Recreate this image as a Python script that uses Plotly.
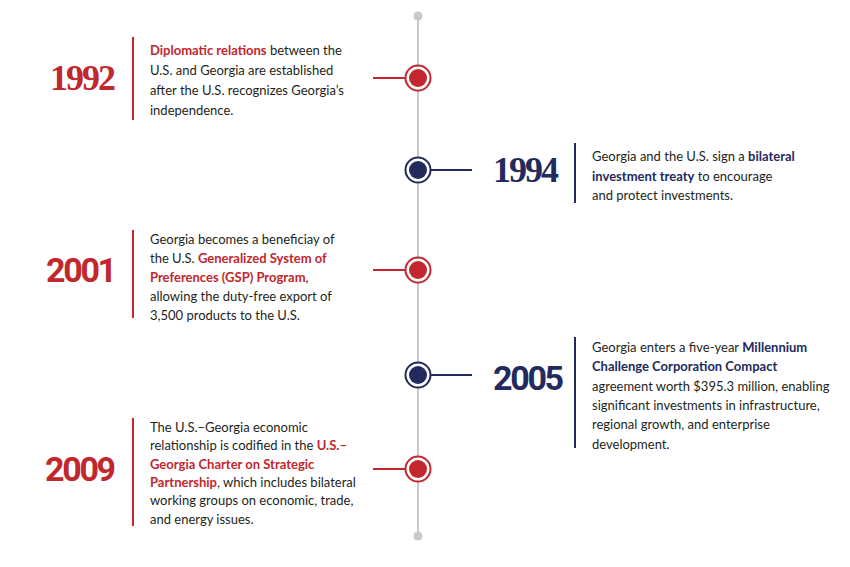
import re
import plotly.graph_objects as go

# timeline content
years = ["1992", "1994", "2001", "2005", "2009"]
sides = ["left", "right", "left", "right", "left"]
blurbs = [
    ["[Diplomatic relations] between the",
     "U.S. and Georgia are established",
     "after the U.S. recognizes Georgia’s",
     "independence."],
    ["Georgia and the U.S. sign a [bilateral]",
     "[investment treaty] to encourage",
     "and protect investments."],
    ["Georgia becomes a beneficiay of",
     "the U.S. [Generalized System of]",
     "[Preferences (GSP) Program],",
     "allowing the duty-free export of",
     "3,500 products to the U.S."],
    ["Georgia enters a five-year [Millennium]",
     "[Challenge Corporation Compact]",
     "agreement worth $395.3 million, enabling",
     "significant investments in infrastructure,",
     "regional growth, and enterprise",
     "development."],
    ["The U.S.–Georgia economic",
     "relationship is codified in the [U.S.–]",
     "[Georgia Charter on Strategic]",
     "[Partnership], which includes bilateral",
     "working groups on economic, trade,",
     "and energy issues."],
]

# colours
red = "#c1272d"
navy = "#222a5e"
grey = "#c9c9cc"
ink = "#231f20"

# first two years are set in a slab-ish serif, the rest in a sans
serif_years = ["1992", "1994"]

# layout (pixel space, y down)
W, H = 850, 567
spine_x = 418
spine_top, spine_bot = 16, 536
row_y = [78, 170, 270, 375, 469]
year_y = [78, 170, 270, 378, 469]
text_top = [50, 156, 239, 347, 427]
line_gap = [20, 19.5, 19, 19.3, 18.3]
sep_span = [(37, 120), (143, 203), (230, 318), (337, 448), (418, 526)]

fig = go.Figure()
shapes = []
annotations = []

# spine
fig.add_trace(go.Scatter(x=[spine_x, spine_x], y=[spine_top, spine_bot], mode="lines",
                         line=dict(color=grey, width=2), hoverinfo="skip"))
fig.add_trace(go.Scatter(x=[spine_x, spine_x], y=[spine_top, spine_bot], mode="markers",
                         marker=dict(color=grey, size=9), hoverinfo="skip"))

for i, yr in enumerate(years):
    c = red if sides[i] == "left" else navy
    y = row_y[i]
    if sides[i] == "left":
        conn = (373, spine_x)
        sep_x = 133
        year_x, year_anchor = 117, "right"
        txt_x = 148
    else:
        conn = (spine_x, 472)
        sep_x = 575
        year_x, year_anchor = 491, "left"
        txt_x = 590

    if yr in serif_years:
        yfont, ysize, ls = "Liberation Serif", 36, -2
    else:
        yfont, ysize, ls = "Roboto", 34, -2.3

    # connector
    fig.add_trace(go.Scatter(x=list(conn), y=[y, y], mode="lines",
                             line=dict(color=c, width=2), hoverinfo="skip"))
    # node: ring + disc
    fig.add_trace(go.Scatter(x=[spine_x], y=[y], mode="markers", hoverinfo="skip",
                             marker=dict(color="white", size=25, line=dict(color=c, width=2))))
    fig.add_trace(go.Scatter(x=[spine_x], y=[y], mode="markers", hoverinfo="skip",
                             marker=dict(color=c, size=18, line=dict(width=0))))

    # separator
    shapes.append(dict(type="line", x0=sep_x, x1=sep_x, y0=sep_span[i][0], y1=sep_span[i][1],
                       xref="x", yref="y", line=dict(color=c, width=2)))

    # year
    annotations.append(dict(x=year_x, y=year_y[i], xref="x", yref="y",
                            text="<span style='letter-spacing:%spx'><b>%s</b></span>" % (ls, yr),
                            showarrow=False, xanchor=year_anchor, yanchor="middle",
                            font=dict(family=yfont, size=ysize, color=c)))

    # body text
    for k, line in enumerate(blurbs[i]):
        html = re.sub(r"\[(.+?)\]",
                      lambda m: "<span style='color:%s'><b>%s</b></span>" % (c, m.group(1)),
                      line)
        annotations.append(dict(x=txt_x, y=text_top[i] + k * line_gap[i], xref="x", yref="y",
                                text=html, showarrow=False, xanchor="left", yanchor="middle",
                                font=dict(family="Lato", size=13, color=ink)))

fig.update_layout(
    width=W, height=H,
    margin=dict(l=0, r=0, t=0, b=0),
    paper_bgcolor="white", plot_bgcolor="white",
    showlegend=False,
    xaxis=dict(range=[0, W], visible=False, fixedrange=True),
    yaxis=dict(range=[H, 0], visible=False, fixedrange=True),
    shapes=shapes,
    annotations=annotations,
)

fig.write_html("out.html", config={"displayModeBar": False},
               post_script="document.body.style.margin='0';")
